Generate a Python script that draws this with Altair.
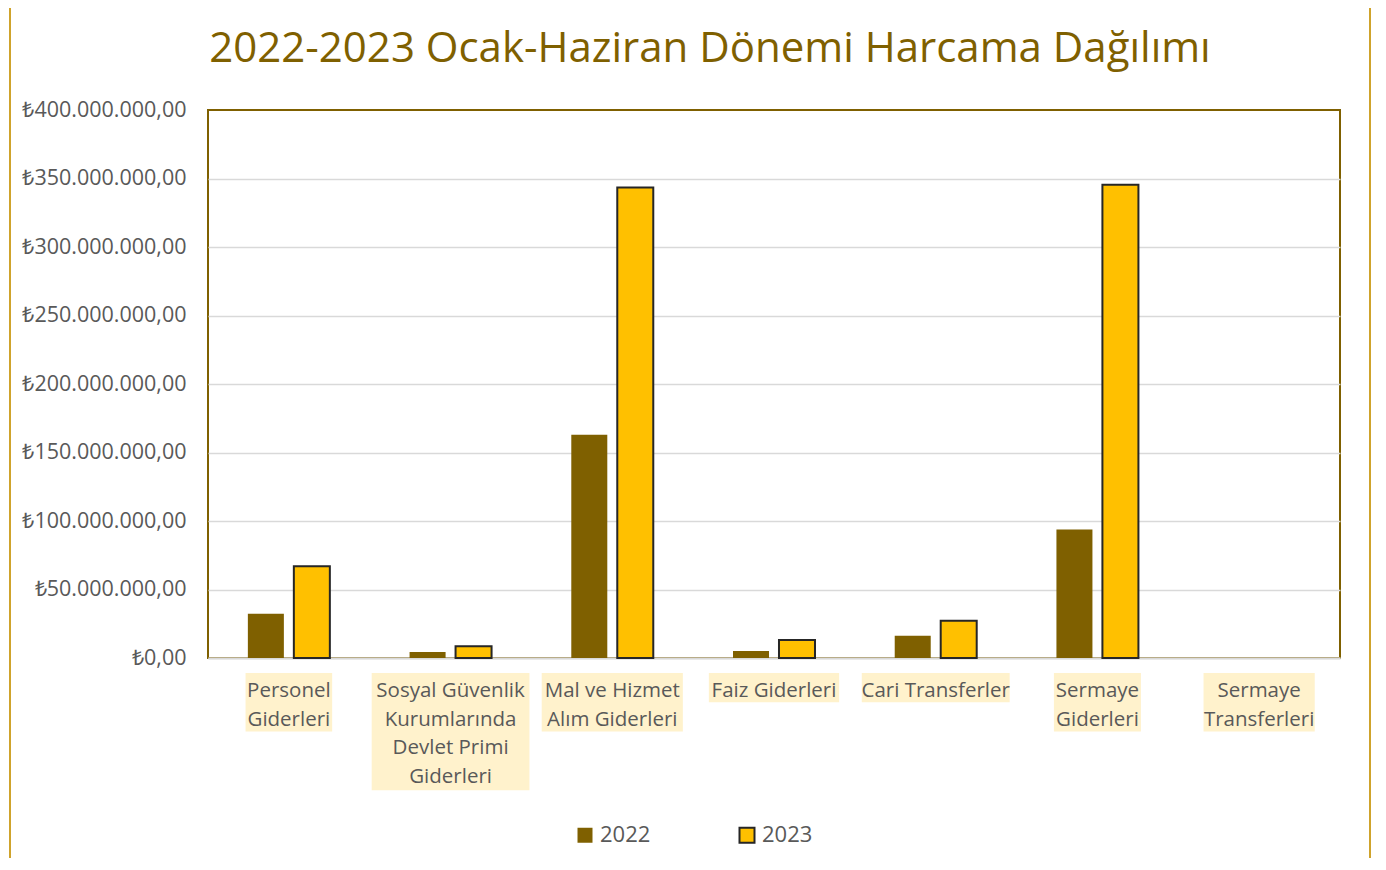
import altair as alt
import pandas as pd

# ---------------- data ----------------
title_text = "2022-2023 Ocak-Haziran Dönemi Harcama Dağılımı"
categories = [
    "Personel Giderleri",
    "Sosyal Güvenlik Kurumlarında Devlet Primi Giderleri",
    "Mal ve Hizmet Alım Giderleri",
    "Faiz Giderleri",
    "Cari Transferler",
    "Sermaye Giderleri",
    "Sermaye Transferleri",
]
label_lines = [
    ["Personel", "Giderleri"],
    ["Sosyal Güvenlik", "Kurumlarında", "Devlet Primi", "Giderleri"],
    ["Mal ve Hizmet", "Alım Giderleri"],
    ["Faiz Giderleri"],
    ["Cari Transferler"],
    ["Sermaye", "Giderleri"],
    ["Sermaye", "Transferleri"],
]
years = ["2022", "2023"]
values_2022 = [32_300_000, 4_400_000, 163_000_000, 5_100_000, 16_300_000, 93_800_000, 0]
values_2023 = [67_000_000, 8_500_000, 343_400_000, 13_100_000, 27_200_000, 345_500_000, 0]
y_ticks = [0, 50e6, 100e6, 150e6, 200e6, 250e6, 300e6, 350e6, 400e6]

# ---------------- style ----------------
FONT = "Open Sans"
TEXT_GREY = "#595959"
DARK_GOLD = "#7F6000"
GOLD = "#FFC000"
FRAME = "#CFA32C"
GRID = "#D9D9D9"
W, H = 1132, 548
LABEL_FS = 20.5
LINE_H = 29.3
LABEL_TOP = 563


def text_width(s, fs):
    narrow = set("ilıjtfrI.,:;' ")
    wide = set("mwMW")
    w = 0.0
    for c in s:
        if c in narrow:
            w += 0.30
        elif c in wide:
            w += 0.88
        elif c.isupper():
            w += 0.63
        else:
            w += 0.56
    return w * fs


rows = []
for yr, vals in zip(years, [values_2022, values_2023]):
    for c, v in zip(categories, vals):
        rows.append({"cat": c, "year": yr, "value": v})
bars_df = pd.DataFrame(rows)

lab_df = pd.DataFrame({
    "cat": categories,
    "label": ["\n".join(l) for l in label_lines],
    "nlines": [len(l) for l in label_lines],
    "boxw": [max(text_width(s, LABEL_FS) for s in l) + 4 for l in label_lines],
})

x_scale = alt.Scale(domain=categories, paddingInner=0.493, paddingOuter=0.2465)
y_scale = alt.Scale(domain=[0, 400e6], nice=False)

legend_cfg = dict(title=None, orient="none", legendX=366, legendY=714,
                  direction="horizontal", symbolType="square",
                  symbolSize=225, symbolStrokeWidth=2,
                  labelFont=FONT, labelFontSize=22, labelColor=TEXT_GREY,
                  labelOffset=4, columnPadding=84)

bars = alt.Chart(bars_df).mark_bar().encode(
    x=alt.X("cat:N", sort=categories, scale=x_scale,
            axis=alt.Axis(labels=False, ticks=False, title=None, grid=False,
                          domainColor=GRID, domainWidth=2)),
    xOffset=alt.XOffset("year:N", scale=alt.Scale(paddingInner=0.217, paddingOuter=0)),
    y=alt.Y("value:Q", scale=y_scale,
            axis=alt.Axis(values=y_ticks, format="$,.2f", title=None, ticks=False,
                          domain=False, labelFont=FONT, labelFontSize=21.5,
                          labelColor=TEXT_GREY, labelPadding=22,
                          gridColor=GRID, gridWidth=1.5,
                          gridOpacity={"condition": {"test": "datum.value >= 400000000", "value": 0}, "value": 1})),
    fill=alt.Fill("year:N", scale=alt.Scale(domain=years, range=[DARK_GOLD, GOLD]),
                  legend=alt.Legend(**legend_cfg)),
    stroke=alt.Stroke("year:N", scale=alt.Scale(domain=years, range=["transparent", "#262626"]),
                      legend=alt.Legend(**legend_cfg)),
    strokeWidth=alt.condition("datum.value > 0", alt.value(2), alt.value(0)),
)

layers = []
for n in sorted(set(lab_df["nlines"])):
    layers.append(
        alt.Chart(lab_df).transform_filter(f"datum.nlines == {n}").mark_rule(color="#FFF2CC").encode(
            x=alt.X("cat:N", sort=categories, scale=x_scale),
            y=alt.value(LABEL_TOP),
            y2=alt.value(LABEL_TOP + n * LINE_H),
            size=alt.Size("boxw:Q", scale=None, legend=None),
        )
    )

labels = alt.Chart(lab_df).mark_text(
    lineBreak="\n", baseline="alphabetic", align="center", font=FONT,
    fontSize=LABEL_FS, lineHeight=28.6, color=TEXT_GREY,
).encode(
    x=alt.X("cat:N", sort=categories, scale=x_scale),
    y=alt.value(587),
    text="label:N",
)

title_df = pd.DataFrame({"t": [title_text]})
title = alt.Chart(title_df).mark_text(
    font=FONT, fontSize=42, color=DARK_GOLD, align="center", baseline="alphabetic",
).encode(x=alt.value(502), y=alt.value(-48), text="t:N")

frame_df = pd.DataFrame({"side": ["left", "right"]})
frame_left = alt.Chart(frame_df).transform_filter("datum.side == 'left'").mark_rule(
    color=FRAME, strokeWidth=2).encode(x=alt.value(-198), y=alt.value(-102), y2=alt.value(748))
frame_right = alt.Chart(frame_df).transform_filter("datum.side == 'right'").mark_rule(
    color=FRAME, strokeWidth=2).encode(x=alt.value(1162), y=alt.value(-102), y2=alt.value(748))

chart = alt.layer(*layers, bars, labels, title, frame_left, frame_right).properties(
    width=W, height=H,
    autosize=alt.AutoSizeParams(type="none"),
    padding={"left": 200, "top": 102, "right": 38, "bottom": 200},
).configure(
    locale={"number": {"decimal": ",", "thousands": ".", "grouping": [3], "currency": ["₺", ""]}},
).configure_view(
    stroke=DARK_GOLD, strokeWidth=2,
)

chart.save("out.html", embed_options={"renderer": "svg", "actions": False})
